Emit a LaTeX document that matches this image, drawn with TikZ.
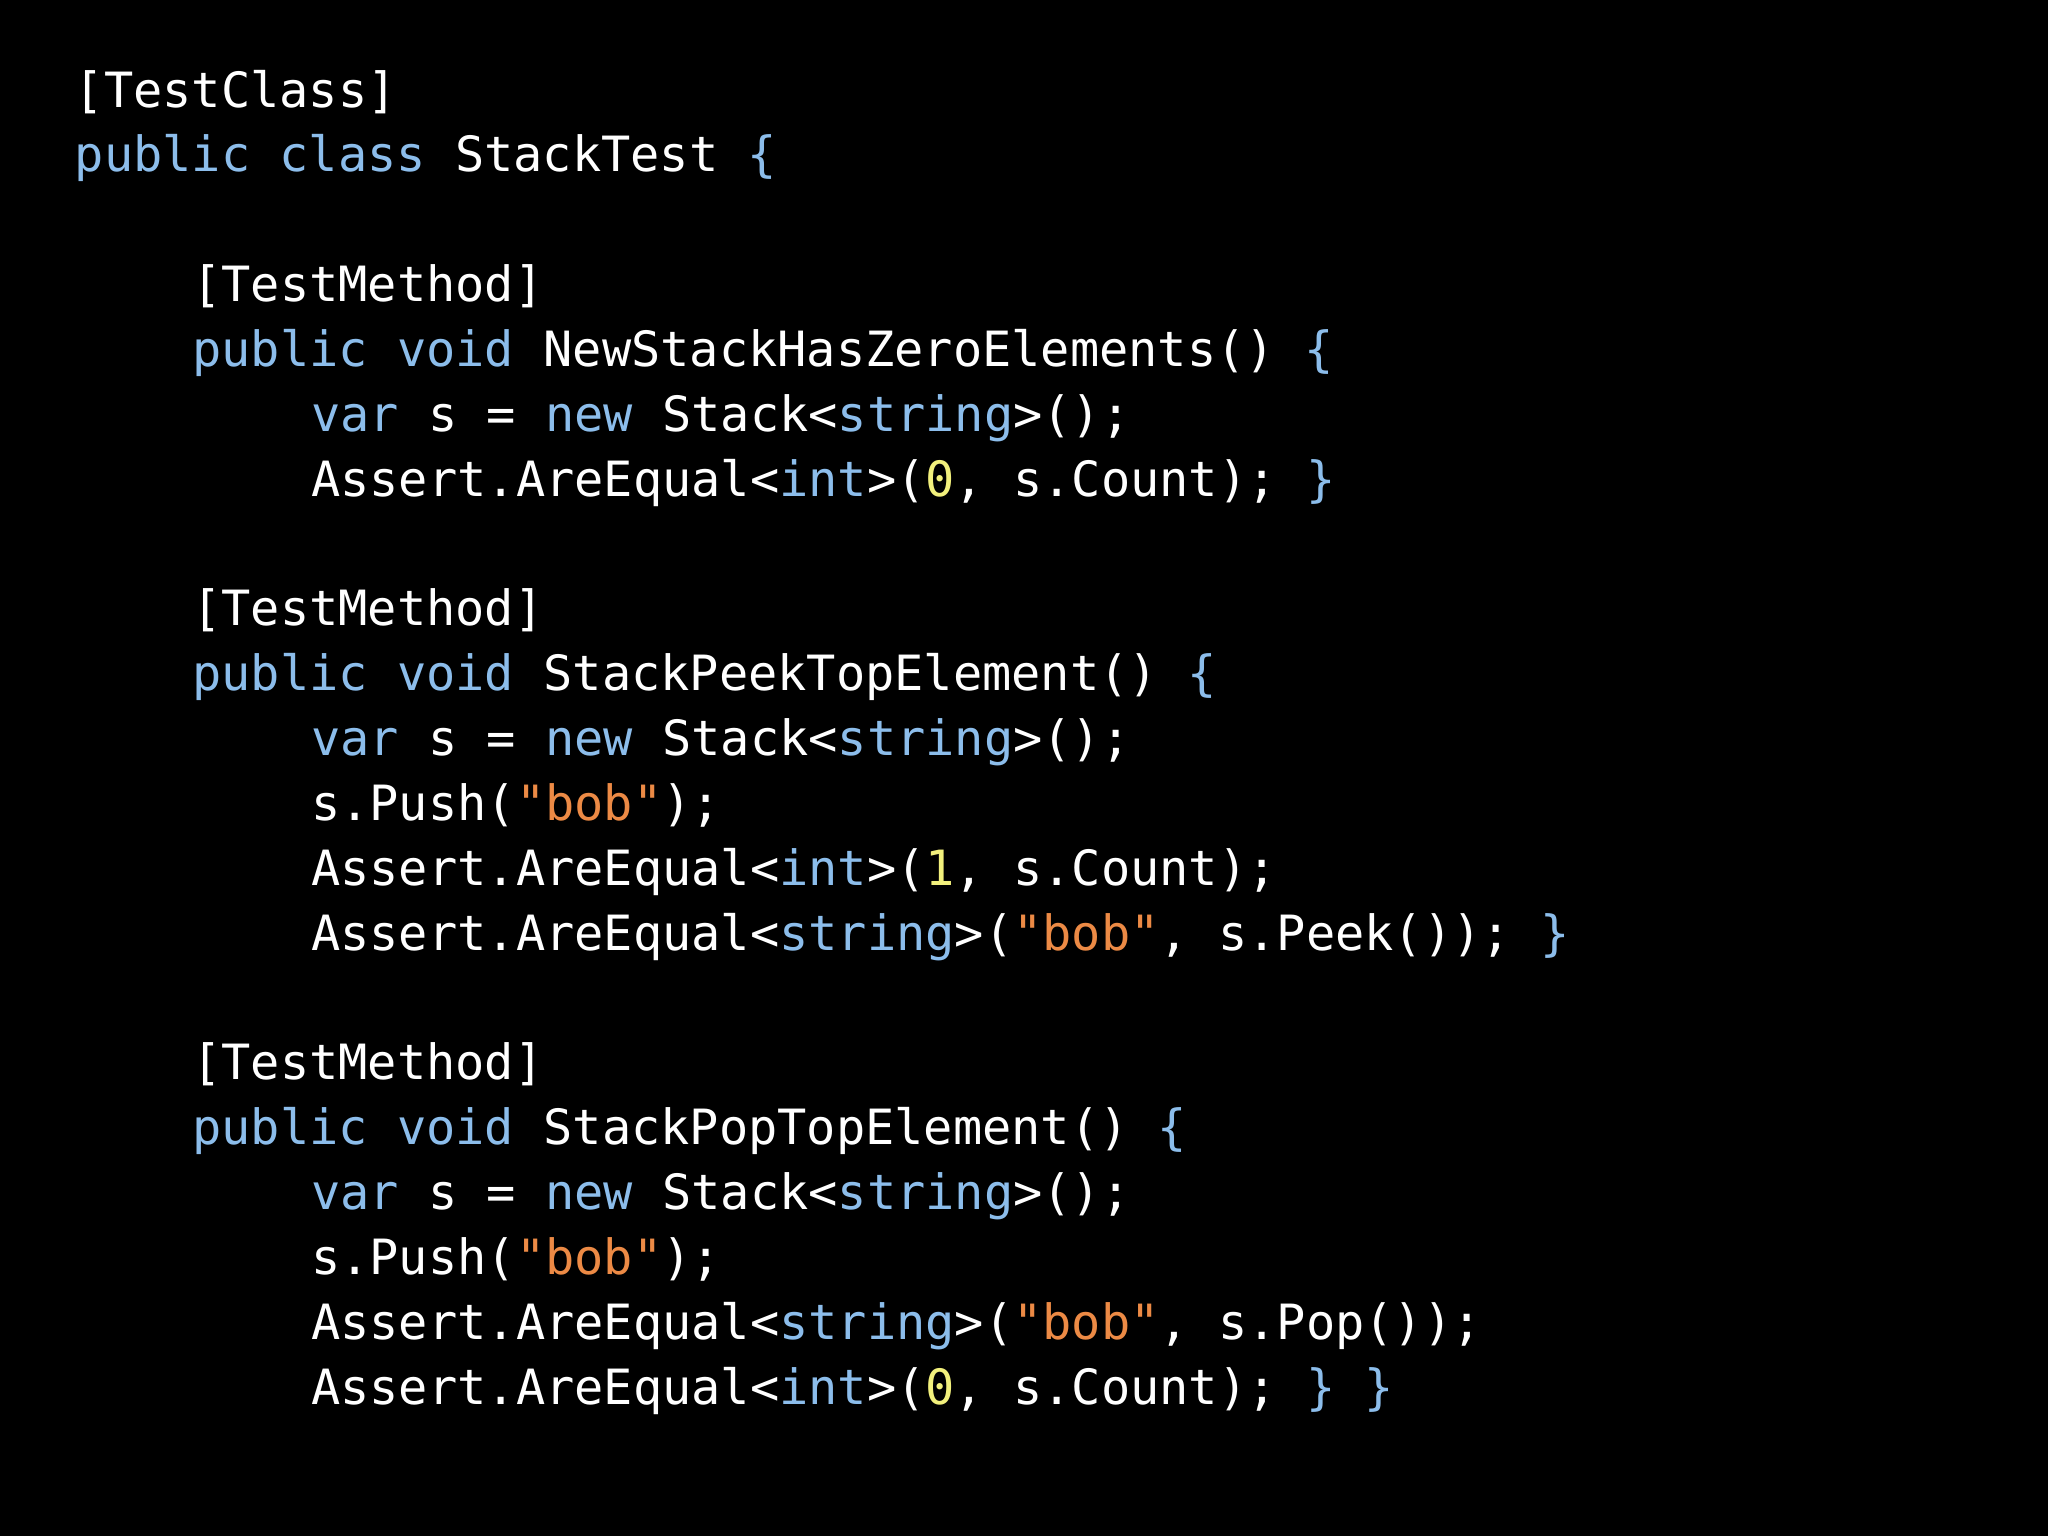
\documentclass[tikz,border=0pt]{standalone}
\usepackage{fontspec}
\setmonofont{DejaVu Sans Mono}
\definecolor{kw}{HTML}{8CBDEB}
\definecolor{st}{HTML}{EC8A45}
\definecolor{nm}{HTML}{F2F07C}
\newcommand{\K}[1]{\textcolor{kw}{#1}}
\newcommand{\Sg}[1]{\textcolor{st}{#1}}
\newcommand{\N}[1]{\textcolor{nm}{#1}}
\tikzset{code/.style={anchor=base west,inner sep=0pt,text=white,font=\ttfamily\fontsize{24.3}{28}\selectfont}}
\begin{document}
\begin{tikzpicture}[x=0.5pt,y=-0.5pt]
\fill[black] (0,0) rectangle (2048,1536);
\useasboundingbox (0,0) rectangle (2048,1536);
\def\A{74.4}\def\B{192}\def\C{310.8}
\node[code] (l0) at (\A,107) {[TestClass]};
\node[code] (l1) at (\A,171.85) {\K{public class} StackTest \K{\{}};
\node[code] (l3) at (\B,301.55) {[TestMethod]};
\node[code] (l4) at (\B,366.4) {\K{public void} NewStackHasZeroElements() \K{\{}};
\node[code] (l5) at (\C,431.25) {\K{var} s = \K{new} Stack<\K{string}>();};
\node[code] (l6) at (\C,496.1) {Assert.AreEqual<\K{int}>(\N{0}, s.Count); \K{\}}};
\node[code] (l8) at (\B,625.8) {[TestMethod]};
\node[code] (l9) at (\B,690.65) {\K{public void} StackPeekTopElement() \K{\{}};
\node[code] (l10) at (\C,755.5) {\K{var} s = \K{new} Stack<\K{string}>();};
\node[code] (l11) at (\C,820.35) {s.Push(\Sg{"bob"});};
\node[code] (l12) at (\C,885.2) {Assert.AreEqual<\K{int}>(\N{1}, s.Count);};
\node[code] (l13) at (\C,950.05) {Assert.AreEqual<\K{string}>(\Sg{"bob"}, s.Peek()); \K{\}}};
\node[code] (l15) at (\B,1079.75) {[TestMethod]};
\node[code] (l16) at (\B,1144.6) {\K{public void} StackPopTopElement() \K{\{}};
\node[code] (l17) at (\C,1209.45) {\K{var} s = \K{new} Stack<\K{string}>();};
\node[code] (l18) at (\C,1274.3) {s.Push(\Sg{"bob"});};
\node[code] (l19) at (\C,1339.15) {Assert.AreEqual<\K{string}>(\Sg{"bob"}, s.Pop());};
\node[code] (l20) at (\C,1404) {Assert.AreEqual<\K{int}>(\N{0}, s.Count); \K{\} \}}};
\end{tikzpicture}
\end{document}
